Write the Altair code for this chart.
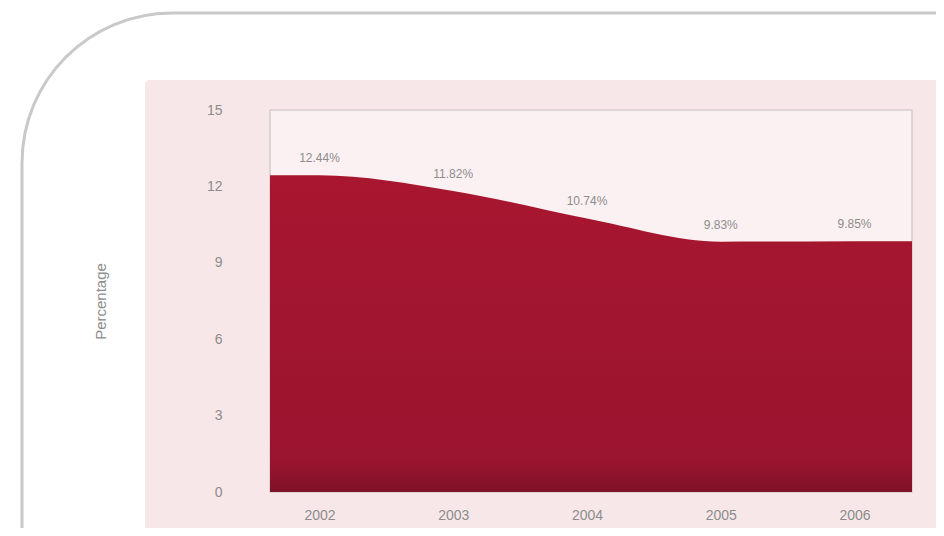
import altair as alt
import pandas as pd

years = [2002, 2003, 2004, 2005, 2006]
values = [12.44, 11.82, 10.74, 9.83, 9.85]
labels = ["12.44%", "11.82%", "10.74%", "9.83%", "9.85%"]
y_ticks = [0, 3, 6, 9, 12, 15]

X_DOMAIN = [2001.63, 2006.43]
W, H = 642, 382

df = pd.DataFrame({"year": years, "value": values, "label": labels})
# area extended flat to the plot edges (same first/last values)
edge = pd.DataFrame({"year": [X_DOMAIN[0]] + years + [X_DOMAIN[1]],
                     "value": [values[0]] + values + [values[-1]]})

grey = "#8c8c8c"
font = "Liberation Sans"

xscale = alt.Scale(domain=X_DOMAIN, nice=False, zero=False)
yscale = alt.Scale(domain=[0, 15], nice=False)

deco = alt.Chart(pd.DataFrame({"a": [0]}))

frame = deco.mark_rect(fill=None, stroke="#c9c9c9", strokeWidth=3, cornerRadius=150).encode(
    x=alt.value(-248), x2=alt.value(1000), y=alt.value(-97), y2=alt.value(700))
panel = deco.mark_rect(fill="#f8e7e9", cornerRadius=4).encode(
    x=alt.value(-125), x2=alt.value(700), y=alt.value(-30), y2=alt.value(600))
plotbg = deco.mark_rect(fill="#fbf1f2", stroke="#d6cccd", strokeWidth=1.5).encode(
    x=alt.value(0), x2=alt.value(W), y=alt.value(0), y2=alt.value(H))

area = alt.Chart(edge).mark_area(
    interpolate="monotone",
    color=alt.Gradient(gradient="linear", x1=0, x2=0, y1=0, y2=1,
                       stops=[alt.GradientStop(color="#a8162f", offset=0),
                              alt.GradientStop(color="#9b1430", offset=0.9),
                              alt.GradientStop(color="#7e1226", offset=1)]),
).encode(
    x=alt.X("year:Q", scale=xscale,
            axis=alt.Axis(values=years, format="d", title=None, domain=False, ticks=False,
                          grid=False, labelPadding=16, labelFontSize=14, labelColor=grey,
                          labelFont=font, zindex=1)),
    y=alt.Y("value:Q", scale=yscale,
            axis=alt.Axis(values=y_ticks, title="Percentage", domain=False, ticks=False,
                          grid=False, labelPadding=48, labelFontSize=14, labelColor=grey,
                          labelFont=font, titleFont=font, titleFontSize=15,
                          titleFontWeight="normal", titleColor=grey,
                          titleX=-170, titleY=H / 2, titleAngle=-90,
                          titleAlign="center", titleBaseline="middle", zindex=1)),
)

text = alt.Chart(df).mark_text(dy=-17, fontSize=12, color=grey, font=font).encode(
    x=alt.X("year:Q", scale=xscale),
    y=alt.Y("value:Q", scale=yscale),
    text="label:N",
)

chart = alt.layer(frame, panel, plotbg, area, text).properties(
    width=W, height=H,
    autosize=alt.AutoSizeParams(type="none"),
    padding={"left": 262, "top": 102, "right": 24, "bottom": 36},
    background="white",
).configure_view(stroke=None)

chart.save("out.html", embed_options={"renderer": "svg", "actions": False})
